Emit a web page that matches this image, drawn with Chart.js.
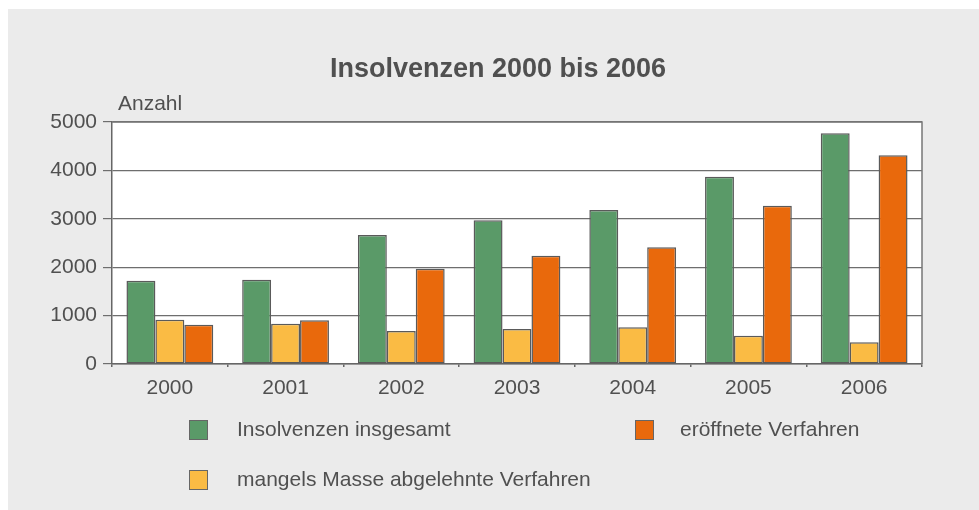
<!DOCTYPE html>
<html>
<head>
<meta charset="utf-8">
<script src="https://cdn.jsdelivr.net/npm/chart.js@4.4.1/dist/chart.umd.min.js"></script>
<style>
  html, body { margin: 0; padding: 0; background: #ffffff; }
  #wrap { position: relative; width: 979px; height: 510px; overflow: hidden; }
  #c { position: absolute; left: 0; top: 0; }
  .lg { position: absolute; font-family: "Liberation Sans", Arial, sans-serif; font-size: 21px; color: #505050; line-height: 24px; white-space: nowrap; }
  .sw { position: absolute; width: 17px; height: 18px; border: 1px solid #666666; }
</style>
</head>
<body>
<div id="wrap">
  <canvas id="c" width="979" height="510"></canvas>
  <div class="sw" style="left:189px; top:420px; background:#5A9A68;"></div>
  <div class="lg" style="left:237px; top:417px;">Insolvenzen insgesamt</div>
  <div class="sw" style="left:635px; top:420px; background:#E9690C;"></div>
  <div class="lg" style="left:680px; top:417px;">eröffnete Verfahren</div>
  <div class="sw" style="left:189px; top:470px; background:#FABB44;"></div>
  <div class="lg" style="left:237px; top:467px;">mangels Masse abgelehnte Verfahren</div>
</div>
<script>
const categories = ["2000", "2001", "2002", "2003", "2004", "2005", "2006"];
const insolvenzenInsgesamt = [1720, 1740, 2665, 2970, 3180, 3870, 4765];
const mangelsMasseAbgelehnt = [915, 833, 682, 723, 758, 585, 448];
const eroeffneteVerfahren = [812, 903, 1970, 2238, 2411, 3271, 4312];
const yTicks = [0, 1000, 2000, 3000, 4000, 5000];
const chartTitle = "Insolvenzen 2000 bis 2006";
const yUnit = "Anzahl";

const FONT = '"Liberation Sans", Arial, sans-serif';
const TEXT = '#505050';

const decor = {
  id: 'decor',
  beforeDraw(chart) {
    const ctx = chart.ctx, a = chart.chartArea;
    ctx.save();
    ctx.fillStyle = '#ffffff';
    ctx.fillRect(0, 0, chart.width, chart.height);
    ctx.fillStyle = '#EBEBEB';
    ctx.fillRect(8, 9, chart.width - 8, chart.height - 9);
    ctx.fillStyle = '#ffffff';
    ctx.fillRect(a.left, a.top, a.right - a.left, a.bottom - a.top);
    ctx.restore();
  },
  afterDraw(chart) {
    const ctx = chart.ctx, a = chart.chartArea;
    ctx.save();
    ctx.strokeStyle = '#777777';
    ctx.lineWidth = 1.5;
    ctx.beginPath();
    ctx.moveTo(a.left, a.top);
    ctx.lineTo(a.right, a.top);
    ctx.lineTo(a.right, a.bottom);
    ctx.stroke();
    ctx.fillStyle = TEXT;
    ctx.textBaseline = 'middle';
    ctx.textAlign = 'center';
    ctx.font = 'bold 27px ' + FONT;
    ctx.fillText(chartTitle, 498, 70);
    ctx.textAlign = 'left';
    ctx.font = '21px ' + FONT;
    ctx.fillText(yUnit, 118, 104);
    ctx.restore();
  }
};

const border = { borderColor: '#5a5a5a', borderWidth: 1.5, borderSkipped: false };

new Chart(document.getElementById('c'), {
  type: 'bar',
  data: {
    labels: categories,
    datasets: [
      Object.assign({ label: 'Insolvenzen insgesamt', data: insolvenzenInsgesamt, backgroundColor: '#5A9A68' }, border),
      Object.assign({ label: 'mangels Masse abgelehnte Verfahren', data: mangelsMasseAbgelehnt, backgroundColor: '#FABB44' }, border),
      Object.assign({ label: 'eröffnete Verfahren', data: eroeffneteVerfahren, backgroundColor: '#E9690C' }, border)
    ]
  },
  options: {
    responsive: false,
    animation: false,
    devicePixelRatio: 1,
    layout: { padding: { left: 0, top: 122, right: 57, bottom: 0 } },
    datasets: { bar: { categoryPercentage: 0.75, barPercentage: 1.0 } },
    plugins: {
      legend: { display: false },
      title: { display: false },
      tooltip: { enabled: false }
    },
    scales: {
      x: {
        offset: true,
        grid: { drawOnChartArea: false, drawTicks: true, tickLength: 3, color: '#666666', lineWidth: 1.5 },
        border: { display: true, color: '#666666', width: 1.5 },
        ticks: { color: TEXT, font: { family: FONT, size: 21 }, padding: 9, maxRotation: 0 },
        afterFit(scale) { scale.height = 146; }
      },
      y: {
        min: 0,
        max: 5000,
        afterBuildTicks(scale) { scale.ticks = yTicks.map(v => ({ value: v })); },
        grid: { color: '#6e6e6e', lineWidth: 1.2, tickLength: 9, drawTicks: true },
        border: { display: true, color: '#666666', width: 1.5 },
        ticks: { color: TEXT, font: { family: FONT, size: 21 }, padding: 6, callback: (v) => String(v) },
        afterFit(scale) { scale.width = 112; }
      }
    }
  },
  plugins: [decor]
});
</script>
</body>
</html>
